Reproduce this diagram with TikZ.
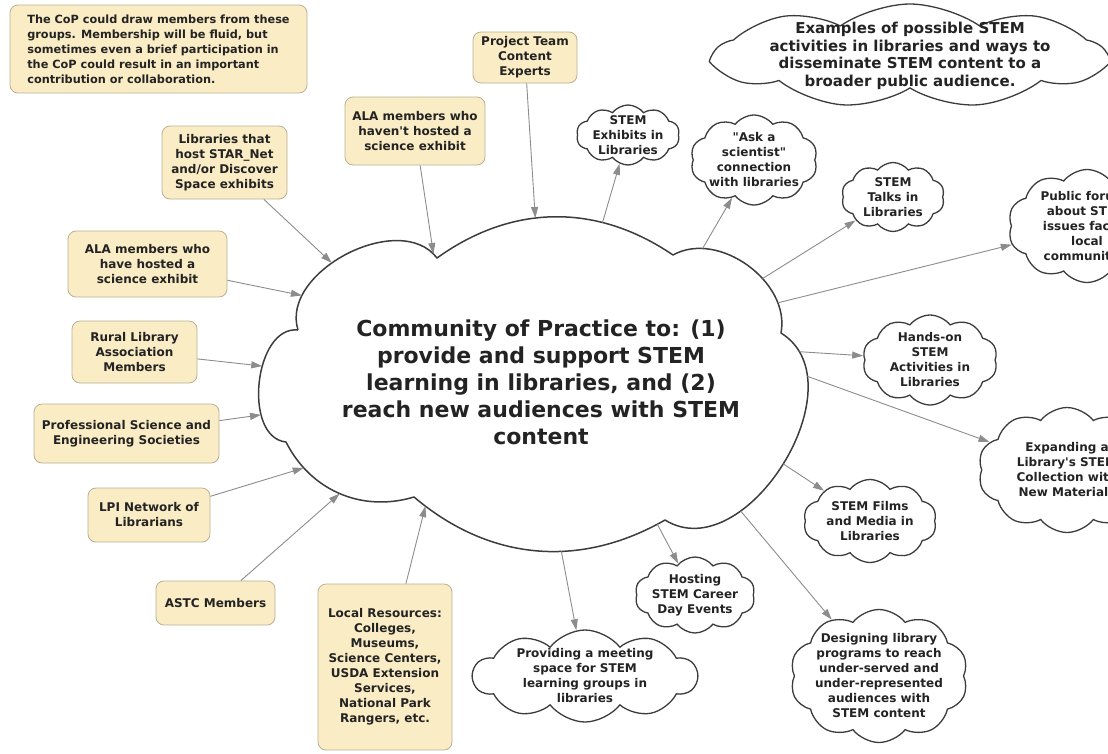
\documentclass[tikz,border=0pt]{standalone}
\usepackage{fontspec}
\setmainfont{DejaVu Sans}
\usetikzlibrary{shapes.symbols,arrows.meta}

\definecolor{boxfill}{RGB}{250,236,197}
\definecolor{boxline}{RGB}{185,176,148}
\definecolor{cloudline}{RGB}{60,60,60}
\definecolor{linkgray}{RGB}{140,140,140}
\definecolor{textdark}{RGB}{35,35,35}

\newcommand\conceptfont{\fontsize{12}{15}\selectfont\bfseries}
\newcommand\notefont{\fontsize{11.3}{15}\selectfont\bfseries}
\newcommand\headfont{\fontsize{15}{17.5}\selectfont\bfseries}
\newcommand\copfont{\fontsize{22}{27}\selectfont\bfseries}

\tikzset{
  member/.style={draw=boxline, fill=boxfill, rounded corners=8pt, line width=0.8pt,
    inner sep=0pt, align=center, text=textdark, font=\conceptfont},
  idea/.style={cloud, cloud puffs=10, cloud puff arc=105, cloud ignores aspect,
    draw=cloudline, line width=1.3pt, fill=white, inner sep=-12pt,
    align=center, text=textdark, font=\conceptfont},
  link/.style={draw=linkgray, line width=0.9pt, -{Triangle[length=11pt,width=7pt]}},
  copline/.style={draw=cloudline, line width=1.5pt, line join=round},
}

\begin{document}
\begin{tikzpicture}[x=1pt,y=-1pt]
\useasboundingbox (0,0) rectangle (1108,753);

% outline of the big cloud
\coordinate (c1) at (298,330);
\coordinate (c2) at (437,258);
\coordinate (c3) at (673,255);
\coordinate (c4) at (781,333);
\coordinate (c5) at (665,520);
\coordinate (c6) at (414,497);
\coordinate (c7) at (286,442);
\draw[copline] (c1)
  to[bend left=80] coordinate[pos=0.2] (in-have) coordinate[pos=0.42] (in-host)
     coordinate[pos=0.97] (in-havenot) (c2)
  to[bend left=35] coordinate[pos=0.42] (in-team) coordinate[pos=0.7] (out-exhibits) (c3)
  to[bend left=65] coordinate[pos=0.2] (out-ask) coordinate[pos=0.62] (out-talks)
     coordinate[pos=0.8] (out-forums) (c4)
  to[bend left=90, looseness=1.1] coordinate[pos=0.1] (out-hands) coordinate[pos=0.2] (out-expand)
     coordinate[pos=0.5] (out-films) coordinate[pos=0.7] (out-design) (c5)
  to[bend left=35] coordinate[pos=0.03] (out-hosting) coordinate[pos=0.4] (out-meeting)
     coordinate[pos=0.95] (in-local) (c6)
  to[bend left=40] coordinate[pos=0.5] (in-astc) coordinate[pos=0.8] (in-lpi) (c7)
  to[bend left=90] coordinate[pos=0.3] (in-prof) coordinate[pos=0.6] (in-rural) (c1);
\node (cop) at (541,382) [font=\copfont, align=center, text=textdark]
  {Community of Practice to: (1)\\provide and support STEM\\learning in libraries, and (2)\\reach new audiences with STEM\\content};

% groups the members come from
\node (note) at (158.5,49) [member, font=\notefont, align=left, minimum width=297pt, minimum height=88pt]
  {The CoP could draw members from these\\groups. Membership will be fluid, but\\sometimes even a brief participation in\\the CoP could result in an important\\contribution or collaboration.};
\node (team) at (525,57.5) [member, minimum width=104pt, minimum height=51pt] {Project Team\\Content\\Experts};
\node (havenot) at (415,131) [member, minimum width=140pt, minimum height=68pt] {ALA members who\\haven\textquotesingle t hosted a\\science exhibit};
\node (host) at (224.5,162.5) [member, minimum width=125pt, minimum height=73pt] {Libraries that\\host STAR\_Net\\and/or Discover\\Space exhibits};
\node (have) at (147.5,264) [member, minimum width=159pt, minimum height=66pt] {ALA members who\\have hosted a\\science exhibit};
\node (rural) at (134.5,352) [member, minimum width=125pt, minimum height=62pt] {Rural Library\\Association\\Members};
\node (prof) at (126.5,433.5) [member, minimum width=185pt, minimum height=59pt] {Professional Science and\\Engineering Societies};
\node (lpi) at (149,515) [member, minimum width=122pt, minimum height=54pt] {LPI Network of\\Librarians};
\node (astc) at (215.5,603) [member, minimum width=119pt, minimum height=44pt] {ASTC Members};
\node (local) at (385,667) [member, minimum width=134pt, minimum height=166pt] {Local Resources:\\Colleges,\\Museums,\\Science Centers,\\USDA Extension\\Services,\\National Park\\Rangers, etc.};

% activities
\node (examples) at (910,56) [idea, font=\headfont, cloud puffs=9, cloud puff arc=70, minimum width=390pt, minimum height=104pt]
  {Examples of possible STEM\\activities in libraries and ways to\\disseminate STEM content to a\\broader public audience.};
\node (exhibits) at (628,135) [idea, minimum width=103pt, minimum height=60pt] {STEM\\Exhibits in\\Libraries};
\node (ask) at (754,160) [idea, minimum width=127pt, minimum height=90pt] {\textquotedbl Ask a\\scientist\textquotedbl\\connection\\with libraries};
\node (talks) at (893,197) [idea, minimum width=103pt, minimum height=69pt] {STEM\\Talks in\\Libraries};
\node (forums) at (1087,226) [idea, minimum width=158pt, minimum height=113pt] {Public forums\\about STEM\\issues facing\\local\\communities};
\node (hands) at (930,360) [idea, minimum width=135pt, minimum height=90pt] {Hands-on\\STEM\\Activities in\\Libraries};
\node (expand) at (1067,470) [idea, minimum width=178pt, minimum height=125pt] {Expanding a\\Library\textquotesingle s STEM\\Collection with\\New Materials};
\node (films) at (870,521) [idea, minimum width=133pt, minimum height=83pt] {STEM Films\\and Media in\\Libraries};
\node (hosting) at (695,595) [idea, minimum width=120pt, minimum height=76pt] {Hosting\\STEM Career\\Day Events};
\node (design) at (879,676) [idea, minimum width=178pt, minimum height=133pt] {Designing library\\programs to reach\\under-served and\\under-represented\\audiences with\\STEM content};
\node (meeting) at (585,676) [idea, minimum width=224pt, minimum height=92pt] {Providing a meeting\\space for STEM\\learning groups in\\libraries};

% links
\foreach \n in {team,havenot,host,have,rural,prof,lpi,astc,local}
  \draw[link] (\n) -- (in-\n);
\foreach \n in {exhibits,ask,talks,forums,hands,expand,films,design,hosting,meeting}
  \draw[link] (out-\n) -- (\n);
\end{tikzpicture}
\end{document}
